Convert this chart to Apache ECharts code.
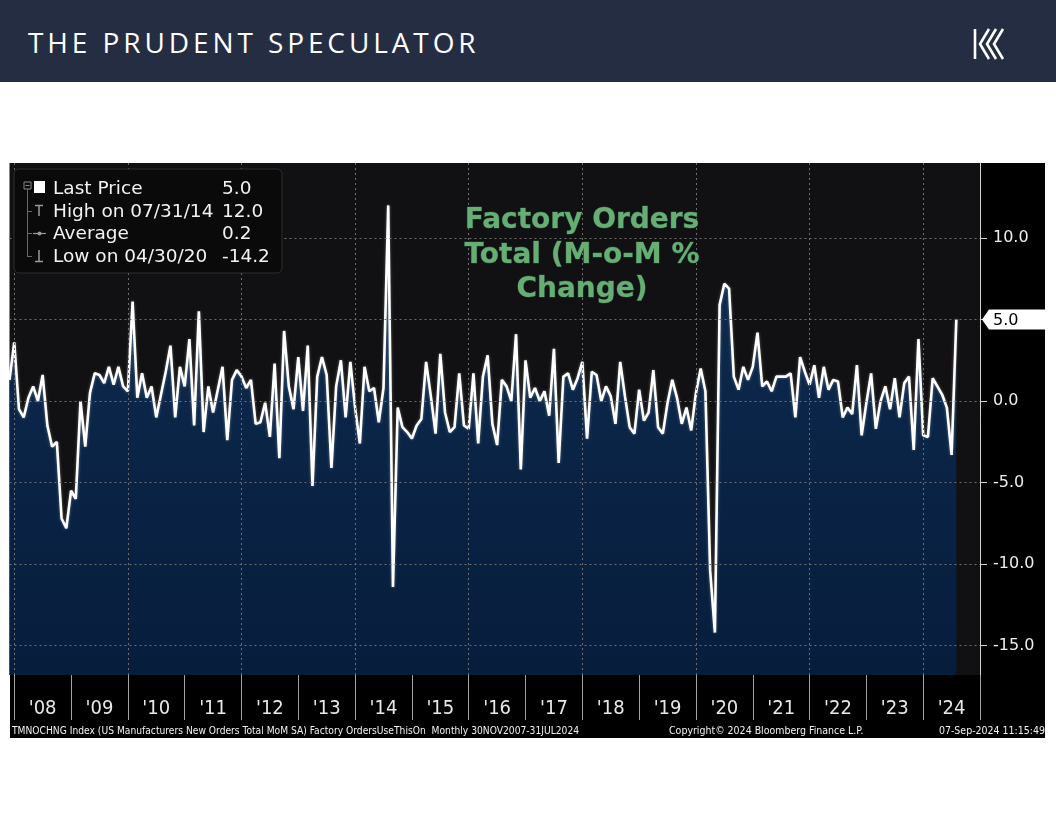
<!DOCTYPE html>
<html><head><meta charset="utf-8">
<script src="https://cdn.jsdelivr.net/npm/echarts@6/dist/echarts.min.js"></script>
<style>
html,body{margin:0;padding:0;background:#fff;width:1056px;height:816px;overflow:hidden;}
#panel{position:absolute;left:10px;top:163px;width:1035px;height:575px;background:#000;}
#chart{position:absolute;left:0;top:0;width:1056px;height:816px;}
#hdr{position:absolute;left:0;top:0;width:1056px;height:82px;background:#252d43;z-index:2;}
#hdr .t{position:absolute;left:28px;top:22px;font-family:'Open Sans',sans-serif;font-size:28px;letter-spacing:3.9px;color:#fff;line-height:40px;white-space:nowrap;}
#logo{position:absolute;left:972px;top:27px;}
</style></head><body>
<div id="panel"></div>
<div id="chart"></div>
<div id="hdr"><div class="t">THE PRUDENT SPECULATOR</div>
<svg id="logo" width="34" height="34" viewBox="0 0 34 34"><g fill="none" stroke="#fff" stroke-width="2.6">
<path d="M3 2 L3 32"/><path d="M17 2 L8 17 L17 32"/><path d="M24 2 L15 17 L24 32"/><path d="M31 2 L22 17 L31 32"/></g></svg>
</div>
<script>
// Monthly categories: Nov 2007 .. Dec 2024 (axis runs to end of 2024)
const startYear = 2007, startMonth = 11, endYear = 2024, endMonth = 12;
const categories = [];
for (let y = startYear, m = startMonth; y < endYear || (y === endYear && m <= endMonth); ) {
  categories.push(y + '-' + String(m).padStart(2, '0'));
  m++; if (m > 12) { m = 1; y++; }
}
// Factory orders, M-o-M % change, Nov 2007 .. Jul 2024
const values = [
 1.3, 3.6, -0.5, -1.0, 0.2, 0.9, 0.0, 1.6, -1.5, -2.8, -2.5, -7.2,
 -7.8, -5.5, -6.0, 0.0, -2.8, 0.5, 1.7, 1.6, 1.1, 2.1, 1.0, 2.1,
 0.9, 0.6, 6.1, 0.2, 1.7, 0.2, 0.9, -1.0, 0.4, 1.8, 3.4, -1.0,
 2.1, 0.9, 3.8, -1.5, 5.5, -1.9, 0.9, -0.7, 0.7, 2.1, -2.4, 1.3,
 1.9, 1.5, 0.8, 1.3, -1.4, -1.3, -0.1, -2.2, 2.3, -3.5, 4.3, 0.9,
 -0.5, 2.7, -0.6, 3.4, -5.2, 1.5, 2.7, 1.6, -4.1, 0.9, 2.5, -1.0,
 2.4, -0.4, -2.6, 2.1, 0.6, 0.8, -1.3, 0.8, 12.0, -11.4, -0.4, -1.6,
 -1.9, -2.3, -1.5, -1.1, 2.4, 0.3, -2.0, 2.9, -0.7, -1.9, -1.6, 1.7,
 -1.5, -1.7, 1.7, -2.6, 1.5, 2.8, -1.4, -2.7, 1.3, 0.9, 0.0, 4.1,
 -4.2, 2.5, 0.2, 0.8, 0.0, 0.6, -0.9, 3.2, -3.8, 1.5, 1.7, 0.7,
 1.4, 2.4, -2.3, 1.8, 1.6, 0.0, 0.9, 0.3, -1.4, 2.4, 0.3, -1.6,
 -2.0, 0.7, -1.2, -0.7, 1.9, -1.6, -2.0, -0.1, 1.3, 0.2, -1.4, -0.4,
 -1.8, 0.5, 2.0, 0.6, -10.4, -14.2, 5.9, 7.2, 6.9, 1.5, 0.7, 2.1,
 1.3, 2.1, 4.2, 0.9, 1.2, 0.6, 1.5, 1.5, 1.5, 1.7, -1.0, 2.7,
 1.8, 1.0, 2.2, 0.2, 2.1, 0.7, 1.3, 1.2, -1.0, -0.4, -0.8, 2.2,
 -2.1, -0.1, 1.7, -1.7, 0.0, 0.9, -0.5, 1.4, -1.0, 1.1, 1.5, -3.0,
 3.8, -2.1, -2.2, 1.4, 0.9, 0.4, -0.4, -3.3, 5.0
];
const yTicks = [-15, -10, -5, 0, 5, 10];
const legendRows = [
  ['Last Price', '5.0'],
  ['High on 07/31/14', '12.0'],
  ['Average', '0.2'],
  ['Low on 04/30/20', '-14.2']
];
const titleLines = ['Factory Orders', 'Total (M-o-M %', 'Change)'];
const footerLeft = 'TMNOCHNG Index (US Manufacturers New Orders Total MoM SA) Factory OrdersUseThisOn  Monthly 30NOV2007-31JUL2024';
const footerMid = 'Copyright\u00A9 2024 Bloomberg Finance L.P.';
const footerRight = '07-Sep-2024 11:15:49';
const lastValue = values[values.length - 1];
const lastCat = categories[values.length - 1];

const narrow = "'Liberation Sans Narrow','DejaVu Sans Condensed',sans-serif";
const chart = echarts.init(document.getElementById('chart'), null, {renderer: 'canvas'});

const legendGraphics = [
  {type: 'rect', shape: {x: 14, y: 169, width: 268, height: 104, r: 5}, style: {fill: '#0a0a0b', stroke: '#2e2e30', lineWidth: 1}, z: 50},
  {type: 'rect', shape: {x: 24, y: 182, width: 7, height: 7}, style: {fill: 'none', stroke: '#8a8a8a', lineWidth: 1}, z: 51},
  {type: 'line', shape: {x1: 25.5, y1: 185.5, x2: 29.5, y2: 185.5}, style: {stroke: '#8a8a8a'}, z: 51},
  {type: 'line', shape: {x1: 27.5, y1: 189, x2: 27.5, y2: 257}, style: {stroke: '#6a6a6a'}, z: 51},
  {type: 'line', shape: {x1: 27.5, y1: 211.5, x2: 32, y2: 211.5}, style: {stroke: '#6a6a6a'}, z: 51},
  {type: 'line', shape: {x1: 27.5, y1: 233.5, x2: 32, y2: 233.5}, style: {stroke: '#6a6a6a'}, z: 51},
  {type: 'line', shape: {x1: 27.5, y1: 256.5, x2: 32, y2: 256.5}, style: {stroke: '#6a6a6a'}, z: 51},
  {type: 'rect', shape: {x: 34, y: 181, width: 11, height: 12}, style: {fill: '#ffffff'}, z: 51},
  {type: 'line', shape: {x1: 35, y1: 205.5, x2: 43, y2: 205.5}, style: {stroke: '#9a9a9a', lineWidth: 1.5}, z: 51},
  {type: 'line', shape: {x1: 39, y1: 205.5, x2: 39, y2: 216}, style: {stroke: '#9a9a9a', lineWidth: 1.5}, z: 51},
  {type: 'line', shape: {x1: 33, y1: 233.5, x2: 46, y2: 233.5}, style: {stroke: '#9a9a9a', lineWidth: 1.2}, z: 51},
  {type: 'circle', shape: {cx: 39.5, cy: 233.5, r: 2}, style: {fill: '#9a9a9a'}, z: 51},
  {type: 'line', shape: {x1: 39, y1: 250, x2: 39, y2: 261.5}, style: {stroke: '#9a9a9a', lineWidth: 1.5}, z: 51},
  {type: 'line', shape: {x1: 35, y1: 261.5, x2: 43, y2: 261.5}, style: {stroke: '#9a9a9a', lineWidth: 1.5}, z: 51}
];
legendRows.forEach((r, i) => {
  const y = 189 + i * 22.7;
  legendGraphics.push({type: 'text', x: 53, y: y, z: 52, style: {text: r[0], fill: '#f2f2f2', font: "18.5px 'DejaVu Sans'", textVerticalAlign: 'middle'}});
  legendGraphics.push({type: 'text', x: 222, y: y, z: 52, style: {text: r[1], fill: '#f2f2f2', font: "18.5px 'DejaVu Sans'", textVerticalAlign: 'middle'}});
});
const titleGraphics = titleLines.map((t, i) => ({
  type: 'text', x: 582, y: 221 + i * 34.5, z: 40,
  style: {text: t, fill: '#68ad74', font: "bold 28px 'DejaVu Sans'", textAlign: 'center', textVerticalAlign: 'middle',
          stroke: '#1d4a3a', lineWidth: 1}
}));
const footerGraphics = [
  {type: 'text', x: 12, y: 731, z: 40, style: {text: footerLeft, fill: '#f0f0f0', font: "10.2px " + narrow, textVerticalAlign: 'middle'}},
  {type: 'text', x: 669, y: 731, z: 40, style: {text: footerMid, fill: '#f0f0f0', font: "10.5px " + narrow, textVerticalAlign: 'middle'}},
  {type: 'text', x: 1045, y: 731, z: 40, style: {text: footerRight, fill: '#f0f0f0', font: "10.5px " + narrow, textAlign: 'right', textVerticalAlign: 'middle'}}
];

chart.setOption({
  backgroundColor: 'transparent',
  animation: false,
  grid: {left: 9.5, right: 76, top: 163, bottom: 141, show: true, backgroundColor: '#111113', borderWidth: 0},
  xAxis: {
    type: 'category', data: categories, boundaryGap: false, z: 5,
    axisLine: {show: true, onZero: false, lineStyle: {color: 'rgba(0,0,0,0)', width: 1}},
    axisTick: {show: true, length: 45, interval: (i, v) => v.endsWith('-12'), lineStyle: {color: '#a0a0a0', width: 1}},
    axisLabel: {interval: (i, v) => v.endsWith('-06'), formatter: v => "'" + v.slice(2, 4),
                color: '#e8e8e8', fontSize: 20, fontFamily: narrow, margin: 24},
    splitLine: {show: true, interval: (i, v) => v.endsWith('-12') && (+v.slice(0, 4)) % 2 === 1,
                lineStyle: {color: '#6e6e6e', width: 1, type: [2, 3]}}
  },
  yAxis: {
    type: 'value', position: 'right', min: -16.8, max: 14.6, z: 5,
    axisLine: {show: true, lineStyle: {color: '#d0d0d0', width: 1}},
    axisTick: {show: true, length: 7, customValues: yTicks, lineStyle: {color: '#d0d0d0'}},
    axisLabel: {customValues: yTicks, formatter: v => v.toFixed(1), color: '#ececec', fontSize: 16,
                fontFamily: "'DejaVu Sans',sans-serif", margin: 13},
    splitLine: {show: true, lineStyle: {color: '#6e6e6e', width: 1, type: [2, 3]}}
  },
  series: [{
    type: 'line', data: values, symbol: 'none', clip: false, z: 3,
    lineStyle: {color: '#ffffff', width: 2.6, shadowColor: 'rgba(255,255,255,0.35)', shadowBlur: 3},
    areaStyle: {origin: 'start', opacity: 1,
      color: new echarts.graphic.LinearGradient(0, 0, 0, 1, [{offset: 0, color: '#0e2c51'}, {offset: 1, color: '#071d3c'}])}
  }],
  graphic: legendGraphics.concat(titleGraphics, footerGraphics)
});

// Last-price tag on the right axis, placed at the last value through the axis scale
const lp = chart.convertToPixel({gridIndex: 0}, [lastCat, lastValue]);
const axisX = chart.convertToPixel({gridIndex: 0}, [categories[categories.length - 1], lastValue])[0];
chart.setOption({
  graphic: legendGraphics.concat(titleGraphics, footerGraphics, [
    {type: 'polygon', z: 60, shape: {points: [[axisX + 2, lp[1]], [axisX + 9, lp[1] - 10], [1045, lp[1] - 10], [1045, lp[1] + 10], [axisX + 9, lp[1] + 10]]},
     style: {fill: '#ffffff'}},
    {type: 'text', z: 61, x: axisX + 13, y: lp[1] + 1,
     style: {text: lastValue.toFixed(1), fill: '#000000', font: "16px 'DejaVu Sans'", textVerticalAlign: 'middle'}}
  ])
});
</script>
</body></html>
